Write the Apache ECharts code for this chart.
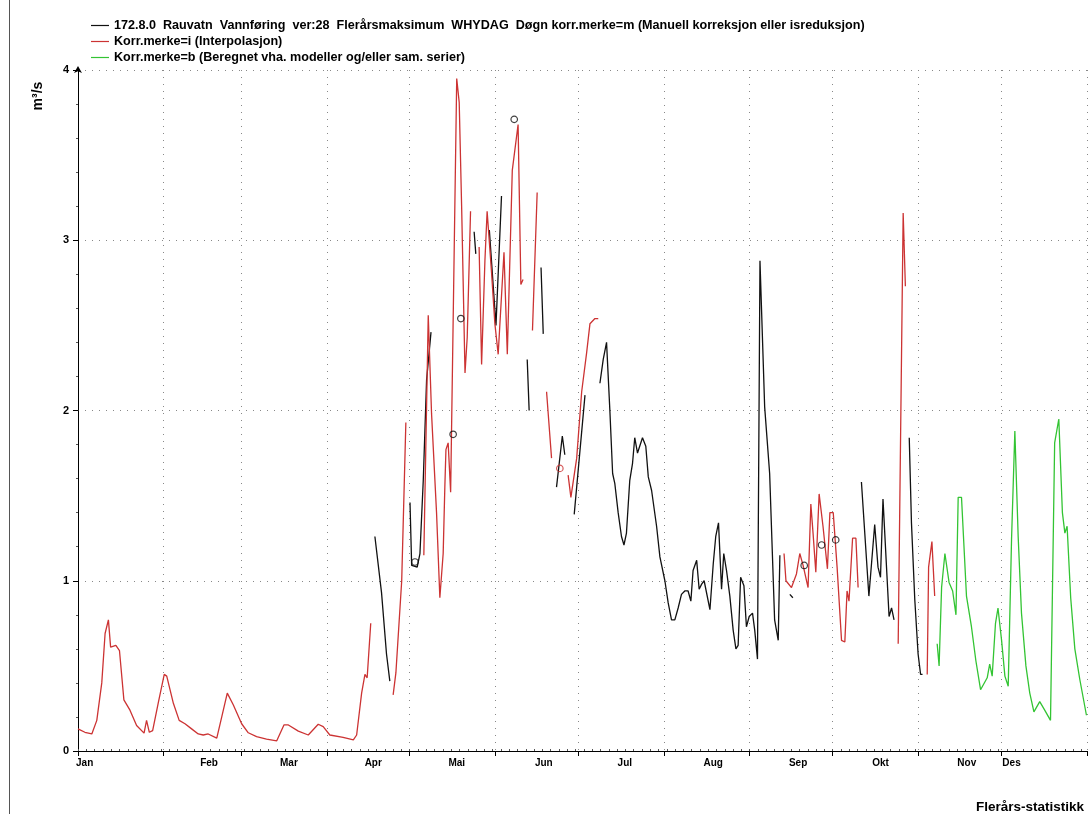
<!DOCTYPE html>
<html>
<head>
<meta charset="utf-8">
<script src="https://cdn.jsdelivr.net/npm/echarts@6/dist/echarts.min.js"></script>
<style>
  html, body { margin: 0; padding: 0; background: #fff; }
  #chart { width: 1088px; height: 814px; }
</style>
</head>
<body>
<div id="chart"></div>
<script>
// Axis: day of year (0 = 1 Jan), month boundaries and label positions
const monthNames = ['Jan','Feb','Mar','Apr','Mai','Jun','Jul','Aug','Sep','Okt','Nov','Des'];
const monthStartDay = [0, 31, 59, 90, 120, 151, 181, 212, 243, 273, 304, 334, 365];
const monthLabelDay = [2.4, 47.4, 76.3, 106.8, 137, 168.5, 197.8, 229.8, 260.5, 290.3, 321.5, 337.7];
const yTicks = [0, 1, 2, 3, 4];

const seriesNameM = '172.8.0  Rauvatn  Vannføring  ver:28  Flerårsmaksimum  WHYDAG  Døgn korr.merke=m (Manuell korreksjon eller isreduksjon)';
const seriesNameI = 'Korr.merke=i (Interpolasjon)';
const seriesNameB = 'Korr.merke=b (Beregnet vha. modeller og/eller sam. serier)';

// Korr.merke=m (black), [day, m3/s], one list per unbroken stretch
const segmentsM = [
  [[107.4,1.26],[109.8,0.93],[111.6,0.57],[112.8,0.41]],
  [[120.1,1.46],[120.7,1.09],[121.3,1.08],[122.7,1.08],[123.7,1.16],[124.9,1.59],[126.1,2.18],[127.7,2.46]],
  [[143.3,3.05],[143.9,2.92]],
  [[148.8,3.06],[151.2,2.50],[153.2,3.26]],
  [[162.5,2.30],[163.2,2.00]],
  [[167.5,2.84],[168.3,2.45]],
  [[173.1,1.55],[175.2,1.85],[176.1,1.74]],
  [[179.5,1.39],[183.4,2.09]],
  [[188.8,2.16],[190.0,2.30],[191.2,2.40],[192.4,2.00],[193.4,1.63],[194.2,1.57],[195.4,1.40],[196.6,1.26],
   [197.5,1.21],[198.4,1.28],[199.6,1.59],[200.6,1.69],[201.4,1.84],[202.4,1.75],[204.2,1.84],[205.4,1.79],
   [206.3,1.61],[207.5,1.53],[209.3,1.32],[210.5,1.14],[212.3,1.00],[213.5,0.87],[214.7,0.77],[215.9,0.77],
   [217.1,0.84],[218.3,0.92],[219.5,0.94],[220.7,0.94],[221.7,0.88],[222.5,1.06],[223.8,1.12],[224.7,0.95],
   [225.6,0.98],[226.5,1.00],[228.6,0.83],[229.8,1.10],[230.7,1.26],[231.7,1.34],[232.8,0.95],[233.6,1.16],
   [234.6,1.06],[235.8,0.91],[237.0,0.71],[238.0,0.60],[238.8,0.62],[239.7,1.02],[240.9,0.97],[241.8,0.73],
   [242.8,0.79],[244.0,0.81],[244.8,0.71],[245.8,0.54],[246.7,2.88],[248.4,2.02],[250.2,1.63],[252.0,0.77],
   [253.3,0.65],[253.9,1.15]],
  [[257.5,0.92],[258.6,0.90]],
  [[283.4,1.58],[286.1,0.91],[288.2,1.33],[289.4,1.08],[290.3,1.02],[291.2,1.48],[293.4,0.79],[294.3,0.84],[295.2,0.77]],
  [[300.7,1.84],[301.5,1.34],[302.7,0.89],[303.9,0.57],[304.8,0.45],[305.5,0.45]]
];

// Korr.merke=i (red)
const segmentsI = [
  [[0,0.13],[2.5,0.11],[5.0,0.10],[6.8,0.18],[8.6,0.40],[9.8,0.69],[11.0,0.77],[11.8,0.61],[13.7,0.62],
   [15.0,0.59],[16.6,0.30],[18.8,0.24],[21.2,0.15],[23.9,0.105],[24.8,0.18],[25.8,0.11],[27.0,0.12],
   [29.0,0.28],[31.2,0.45],[32.1,0.44],[34.5,0.28],[36.6,0.18],[38.7,0.16],[41.1,0.13],[43.5,0.10],
   [45.3,0.094],[47.1,0.10],[50.2,0.076],[52.0,0.20],[54.0,0.34],[56.2,0.27],[59.2,0.16],[61.6,0.107],
   [64.6,0.084],[68.2,0.07],[71.9,0.06],[74.5,0.153],[76.1,0.153],[79.7,0.117],[83.3,0.094],[86.9,0.157],
   [88.7,0.143],[91.1,0.094],[95.9,0.08],[99.6,0.065],[100.8,0.094],[102.6,0.34],[103.8,0.45],[104.6,0.43],
   [105.9,0.75]],
  [[114.0,0.33],[115.0,0.46],[117.1,1.00],[118.6,1.93]],
  [[125.1,1.15],[126.7,2.56],[127.9,1.98],[129.7,1.40],[130.9,0.90],[132.1,1.16],[132.7,1.55],[133.1,1.77],
   [133.9,1.81],[134.8,1.52],[137.0,3.95],[137.9,3.81],[138.8,3.18],[140.0,2.22],[140.8,2.43],[142.0,3.17]],
  [[145.1,2.96],[146.0,2.27],[147.2,2.88],[148.0,3.17],[149.6,2.81],[150.8,2.51],[152.0,2.33],[154.1,2.93],
   [155.3,2.33],[157.1,3.41],[159.2,3.68],[160.2,2.74],[161.0,2.77]],
  [[164.4,2.47],[166.1,3.28]],
  [[169.5,2.11],[170.7,1.85],[171.3,1.72]],
  [[177.3,1.62],[178.3,1.49],[180.4,1.72],[182.2,2.11],[184.0,2.34],[185.2,2.51],[187.0,2.54],[188.2,2.54]],
  [[255.4,1.16],[256.1,1.00],[258.1,0.96],[259.9,1.04],[261.1,1.16],[262.3,1.09],[264.1,0.96],[265.1,1.45],
   [265.9,1.28],[266.9,1.05],[268.1,1.51],[269.5,1.32],[271.1,1.07],[272.0,1.40],[273.2,1.40],[274.6,1.08],
   [276.2,0.65],[277.4,0.64],[278.2,0.94],[278.9,0.88],[280.2,1.25],[281.4,1.25],[282.2,0.96]],
  [[296.7,0.63],[298.5,3.16],[299.3,2.73]],
  [[307.2,0.45],[307.7,1.08],[308.9,1.23],[309.9,0.91]]
];

// Korr.merke=b (green)
const segmentsB = [
  [[310.8,0.63],[311.5,0.50],[312.4,0.96],[313.6,1.16],[315.1,0.99],[316.4,0.94],[317.6,0.80],[318.4,1.49],
   [319.6,1.49],[321.4,0.91],[323.2,0.73],[324.8,0.53],[326.5,0.36],[328.9,0.43],[329.8,0.51],[330.7,0.44],
   [331.9,0.75],[332.8,0.84],[334.1,0.65],[335.3,0.44],[336.5,0.38],[337.7,1.24],[338.9,1.88],[340.1,1.26],
   [341.3,0.81],[342.9,0.50],[344.3,0.34],[345.8,0.23],[347.9,0.29],[349.7,0.24],[351.8,0.18],[353.3,1.81],
   [354.8,1.95],[356.1,1.40],[357.0,1.28],[357.8,1.32],[359.1,0.90],[360.6,0.60],[362.4,0.42],[364.8,0.21]]
];

// Single-day maxima shown as open circles
const maxMarksM = [[121.9,1.11],[135.7,1.86],[138.5,2.54],[157.8,3.71],[262.7,1.09],[269.0,1.21],[274.1,1.24]];
const maxMarksI = [[174.3,1.66]];

// Join stretches with a blank point so the line breaks between them
function joinSegments(segs) {
  const out = [];
  segs.forEach((s, i) => {
    if (i > 0) out.push([s[0][0], '-']);
    s.forEach(p => out.push(p));
  });
  return out;
}

const minorTickDays = [];
for (let d = 0; d <= 365; d += 3) minorTickDays.push(d);

const FONT = 'Liberation Sans';
const RED = '#cc3333';
const GREEN = '#33c433';
const BLACK = '#111111';

const chart = echarts.init(document.getElementById('chart'), null, { renderer: 'canvas' });

const lineBase = {
  type: 'line', symbol: 'none', showSymbol: false, connectNulls: false,
  animation: false, xAxisIndex: 0, yAxisIndex: 0
};

chart.setOption({
  backgroundColor: '#ffffff',
  animation: false,
  grid: { left: 78, right: 1, top: 70, bottom: 63, containLabel: false },
  legend: {
    data: [seriesNameM, seriesNameI, seriesNameB],
    orient: 'vertical', left: 86, top: 14,
    itemWidth: 18, itemHeight: 1.2, itemGap: 3, icon: 'rect',
    textStyle: { fontFamily: FONT, fontSize: 12.6, fontWeight: 'bold', color: '#000' },
    selectedMode: false
  },
  xAxis: [{
    type: 'value', min: 0, max: 365,
    axisLine: { show: true, lineStyle: { color: '#000', width: 1 } },
    axisTick: { show: true, customValues: monthStartDay, length: 5, lineStyle: { color: '#000' } },
    axisLabel: {
      show: true, customValues: monthLabelDay, margin: 7,
      fontFamily: FONT, fontSize: 10, fontWeight: 'bold', color: '#000',
      formatter: v => monthNames[monthLabelDay.indexOf(v)]
    },
    splitLine: { show: true, lineStyle: { color: '#888', type: [1, 6], width: 1 } }
  }, {
    type: 'value', min: 0, max: 365, position: 'bottom',
    axisLine: { show: false },
    axisTick: { show: true, customValues: minorTickDays, length: 2, inside: true, lineStyle: { color: '#555' } },
    axisLabel: { show: false },
    splitLine: { show: false }
  }],
  yAxis: {
    type: 'value', min: 0, max: 4, interval: 1,
    axisLine: { show: true, lineStyle: { color: '#000', width: 1 }, symbol: ['none', 'arrow'], symbolSize: [6, 7], symbolOffset: [0, 4] },
    axisTick: { show: true, length: 5, lineStyle: { color: '#000' } },
    minorTick: { show: true, splitNumber: 5, length: 2, lineStyle: { color: '#555' } },
    axisLabel: {
      fontFamily: FONT, fontSize: 11, fontWeight: 'bold', color: '#000', margin: 9,
      formatter: v => (yTicks.indexOf(v) >= 0 ? String(v) : '')
    },
    splitLine: { show: true, lineStyle: { color: '#888', type: [1, 6], width: 1 } }
  },
  graphic: [
    { type: 'line', shape: { x1: 9.5, y1: 0, x2: 9.5, y2: 814 }, style: { stroke: '#555', lineWidth: 1 }, silent: true },
    { type: 'text', x: 38, y: 96, rotation: Math.PI / 2,
      style: { text: 'm³/s', font: 'bold 14px "Liberation Sans"', fill: '#000', textAlign: 'center', textVerticalAlign: 'middle' } },
    { type: 'text', right: 4, bottom: 0,
      style: { text: 'Flerårs-statistikk', font: 'bold 13.5px "Liberation Sans"', fill: '#000' } }
  ],
  series: [
    Object.assign({}, lineBase, { name: seriesNameM, data: joinSegments(segmentsM), color: BLACK,
      lineStyle: { color: BLACK, width: 1.3 }, z: 3 }),
    Object.assign({}, lineBase, { name: seriesNameI, data: joinSegments(segmentsI), color: RED,
      lineStyle: { color: RED, width: 1.3 }, z: 4 }),
    Object.assign({}, lineBase, { name: seriesNameB, data: joinSegments(segmentsB), color: GREEN,
      lineStyle: { color: GREEN, width: 1.3 }, z: 4 }),
    { type: 'scatter', name: 'maksM', data: maxMarksM, symbol: 'circle', symbolSize: 6.5,
      itemStyle: { color: 'rgba(0,0,0,0)', borderColor: '#111', borderWidth: 1.2 }, z: 5, animation: false },
    { type: 'scatter', name: 'maksI', data: maxMarksI, symbol: 'circle', symbolSize: 6.5,
      itemStyle: { color: 'rgba(0,0,0,0)', borderColor: RED, borderWidth: 1.2 }, z: 5, animation: false }
  ]
});
</script>
</body>
</html>
